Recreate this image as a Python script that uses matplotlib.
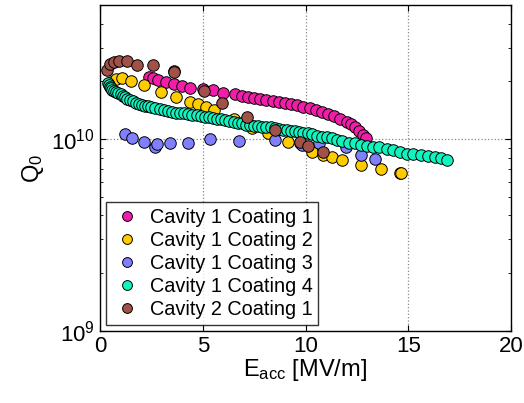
import matplotlib
matplotlib.use("Agg")
import matplotlib.pyplot as plt
from matplotlib.ticker import LogLocator, NullFormatter

plt.rcParams['font.family'] = ['Liberation Sans', 'DejaVu Sans']
plt.rcParams['mathtext.fontset'] = 'custom'
plt.rcParams['mathtext.rm'] = 'Liberation Sans'
plt.rcParams['mathtext.it'] = 'Liberation Sans'

# Cavity 1 Coating 1
e_c1c1 = [2.40, 2.60, 2.80, 3.20, 3.60, 4.00, 4.40, 5.00, 5.50, 6.00, 6.55, 6.90,
          7.20, 7.50, 7.80, 8.10, 8.40, 8.70, 9.00, 9.30, 9.60, 9.90, 10.20, 10.50,
          10.80, 11.10, 11.40, 11.70, 12.00, 12.20, 12.40, 12.60, 12.80, 12.95]
q_c1c1 = [2.10, 2.08, 2.03, 1.98, 1.93, 1.89, 1.84, 1.82, 1.80, 1.74, 1.71, 1.67,
          1.66, 1.64, 1.62, 1.60, 1.58, 1.56, 1.54, 1.52, 1.50, 1.47, 1.45, 1.42,
          1.38, 1.35, 1.32, 1.27, 1.23, 1.20, 1.155, 1.10, 1.05, 1.01]

# Cavity 1 Coating 2
e_c1c2 = [0.55, 0.78, 1.07, 1.50, 2.14, 2.96, 3.69, 4.37, 4.76, 5.15, 5.53, 6.50,
          7.38, 8.16, 9.13, 9.71, 10.34, 10.83, 11.31, 11.80, 12.72, 13.69, 14.61, 14.66]
q_c1c2 = [1.98, 2.05, 2.08, 2.00, 1.91, 1.76, 1.66, 1.56, 1.52, 1.47, 1.42, 1.27,
          1.14, 1.07, 0.965, 0.953, 0.855, 0.826, 0.805, 0.778, 0.733, 0.698, 0.665, 0.665]

# Cavity 1 Coating 3
e_c1c3 = [1.21, 1.55, 2.14, 2.67, 2.77, 3.40, 4.27, 5.34, 6.75, 8.50, 9.81, 10.68,
          11.99, 12.72, 13.40]
q_c1c3 = [1.06, 1.01, 0.965, 0.908, 0.942, 0.953, 0.953, 1.00, 0.977, 0.988, 0.93,
          0.953, 0.908, 0.826, 0.787]

# Cavity 1 Coating 4
e_c1c4 = [0.40, 0.45, 0.50, 0.55, 0.60, 0.70, 0.80, 0.90, 1.00, 1.10, 1.20, 1.30,
          1.45, 1.60, 1.75, 1.90, 2.05, 2.20, 2.35, 2.50, 2.70, 2.90, 3.10, 3.30,
          3.50, 3.70, 3.90, 4.10, 4.30, 4.50, 4.70, 4.90, 5.10, 5.30, 5.50, 5.70,
          5.90, 6.10, 6.30, 6.50, 6.70, 6.90, 7.10, 7.30, 7.50, 7.70, 7.90, 8.10,
          8.30, 8.50, 8.70, 8.90, 9.10, 9.30, 9.50, 9.70, 9.90, 10.10, 10.30, 10.55,
          10.80, 11.05, 11.30, 11.55, 11.80, 12.10, 12.40, 12.70, 13.00, 13.30, 13.60,
          13.95, 14.25, 14.60, 14.95, 15.25, 15.60, 15.95, 16.30, 16.60, 16.90]
q_c1c4 = [1.95, 1.92, 1.88, 1.84, 1.80, 1.78, 1.76, 1.74, 1.72, 1.68, 1.65, 1.62,
          1.60, 1.58, 1.55, 1.53, 1.51, 1.49, 1.48, 1.47, 1.45, 1.43, 1.42, 1.40,
          1.38, 1.37, 1.37, 1.36, 1.35, 1.34, 1.33, 1.32, 1.31, 1.30, 1.29, 1.28,
          1.27, 1.26, 1.25, 1.23, 1.22, 1.21, 1.19, 1.18, 1.17, 1.17, 1.16, 1.15,
          1.15, 1.14, 1.13, 1.12, 1.11, 1.10, 1.10, 1.09, 1.08, 1.07, 1.06, 1.04,
          1.02, 1.02, 1.01, 0.99, 0.98, 0.96, 0.95, 0.93, 0.92, 0.91, 0.905,
          0.89, 0.88, 0.86, 0.84, 0.835, 0.83, 0.82, 0.81, 0.80, 0.78]

# Cavity 2 Coating 1
e_c2c1 = [0.34, 0.49, 0.68, 0.92, 1.31, 1.80, 2.57, 3.59, 3.62, 5.05, 5.92, 7.14,
          8.50, 9.71, 10.10, 10.87]
q_c2c1 = [2.29, 2.46, 2.52, 2.55, 2.55, 2.43, 2.43, 2.26, 2.23, 1.78, 1.54, 1.30,
          1.11, 0.965, 0.92, 0.855]

series = [
    ('Cavity 1 Coating 1', e_c1c1, q_c1c1, '#f21eaa'),
    ('Cavity 1 Coating 2', e_c1c2, q_c1c2, '#ffcc00'),
    ('Cavity 1 Coating 3', e_c1c3, q_c1c3, '#8080ff'),
    ('Cavity 1 Coating 4', e_c1c4, q_c1c4, '#10f5c0'),
    ('Cavity 2 Coating 1', e_c2c1, q_c2c1, '#a05248'),
]

fig = plt.figure(figsize=(5.24, 4.03), dpi=100)
ax = fig.add_axes([100 / 524, 1 - 331 / 403, 411 / 524, 326 / 403])

for label, e, q, color in series:
    ax.plot(e, [v * 1e10 for v in q], 'o', color=color, markersize=8.3,
            markeredgecolor='black', markeredgewidth=0.7, label=label)

ax.set_yscale('log')
ax.set_xlim(0, 20)
ax.set_ylim(1e9, 5e10)
ax.set_xticks([0, 5, 10, 15, 20])
ax.yaxis.set_major_locator(LogLocator(base=10, numticks=5))
ax.yaxis.set_minor_locator(LogLocator(base=10, subs=range(2, 10), numticks=20))
ax.yaxis.set_minor_formatter(NullFormatter())

ax.grid(True, which='major', linestyle=':', color='#888888', linewidth=0.9)
ax.tick_params(which='both', direction='in', top=True, right=True, labelsize=16)
ax.tick_params(which='major', length=4)
ax.tick_params(which='minor', length=2.5)
for s in ax.spines.values():
    s.set_linewidth(1.0)

ax.set_xlabel(r'E$_{\rm acc}$ [MV/m]', fontsize=17, labelpad=0)
ax.set_ylabel(r'Q$_0$', fontsize=17, labelpad=4)

leg = ax.legend(loc='lower left', fontsize=14.3, frameon=True, fancybox=False,
                edgecolor='black', borderaxespad=0.3, handletextpad=0.4,
                labelspacing=0.2, markerscale=0.85, borderpad=0.3, handlelength=1.5)
leg.get_frame().set_linewidth(1.0)

fig.savefig('out.png', dpi=100)
